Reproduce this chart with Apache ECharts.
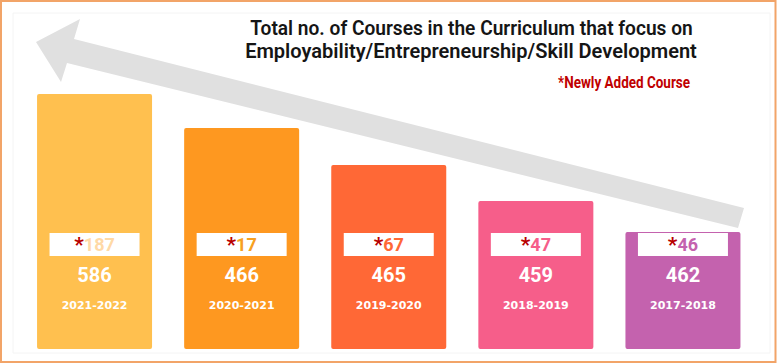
<!DOCTYPE html>
<html>
<head>
<meta charset="utf-8">
<script src="https://cdn.jsdelivr.net/npm/echarts@6/dist/echarts.min.js"></script>
<style>
html,body{margin:0;padding:0;background:#fff;}
#chart{width:777px;height:364px;}
</style>
</head>
<body>
<div id="chart"></div>
<script>
// ---- data ----
const years = ['2021-2022', '2020-2021', '2019-2020', '2018-2019', '2017-2018'];
const totalCourses = [586, 466, 465, 459, 462];
const newCourses = [187, 17, 67, 47, 46];
// bar heights (arbitrary units; the reference draws a staircase, not value-proportional)
const barHeights = [25.5, 22.1, 18.4, 14.8, 11.7];
const titleLines = ['Total no. of Courses in the Curriculum that focus on', 'Employability/Entrepreneurship/Skill Development'];
const noteText = '*Newly Added Course';

// ---- styles ----
const barColors = ['#FFC04F', '#FE9820', '#FF6836', '#F65E8A', '#C462AE'];
const newNumColors = ['#FFD9A6', '#F7A021', '#FF6836', '#F65E8A', '#C462AE'];
const sans = "Roboto, 'Liberation Sans', sans-serif";

// helper: horizontal squeeze factor so a text fits a target width (emulates a condensed face)
const mctx = document.createElement('canvas').getContext('2d');
function squeeze(text, font, target) {
  mctx.font = font;
  return target / mctx.measureText(text).width;
}
const titleFont = '600 21px ' + sans;
const noteFont = 'bold 16px ' + sans;

const chart = echarts.init(document.getElementById('chart'), null, {renderer: 'svg'});

const numRich = {
  s: {color: '#B80000', fontFamily: sans, fontWeight: 'bold', fontSize: 21, align: 'center', lineHeight: 23}
};
barColors.forEach((c, i) => {
  numRich['n' + i] = {color: newNumColors[i], fontFamily: sans, fontWeight: 'bold', fontSize: 18, align: 'center', lineHeight: 23};
});

const option = {
  animation: false,
  grid: {left: 21, right: 20.5, top: 39, bottom: 15},
  xAxis: {type: 'category', data: years, show: false},
  yAxis: {type: 'value', min: 0, max: 31, show: false, splitLine: {show: false}},
  graphic: [
    {type: 'rect', silent: true, z: -10, shape: {x: 1, y: 1, width: 774.5, height: 361},
      style: {fill: 'none', stroke: '#F2A468', lineWidth: 2}},
    {type: 'rect', silent: true, z: -10, shape: {x: 13, y: 13, width: 757, height: 340},
      style: {fill: 'none', stroke: '#F4F4F4', lineWidth: 1}},
    {type: 'polygon', silent: true, z: -5,
      shape: {points: [[36, 42], [80, 19], [74, 39], [744, 208], [738, 228], [67, 63], [61, 82]]},
      style: {fill: '#E0E0E0'}},
    {type: 'text', silent: true, x: 471.5, y: 27.5, scaleX: squeeze(titleLines[0], titleFont, 443),
      style: {text: titleLines[0], align: 'center', verticalAlign: 'middle',
        fontFamily: sans, fontSize: 21, fontWeight: 600, fill: '#151515'}},
    {type: 'text', silent: true, x: 471, y: 50.5, scaleX: squeeze(titleLines[1], titleFont, 452),
      style: {text: titleLines[1], align: 'center', verticalAlign: 'middle',
        fontFamily: sans, fontSize: 21, fontWeight: 600, fill: '#151515'}},
    {type: 'text', silent: true, x: 690, y: 83, scaleX: squeeze(noteText, noteFont, 132),
      style: {text: noteText, align: 'right', verticalAlign: 'middle',
        fontFamily: sans, fontSize: 16, fontWeight: 'bold', fill: '#C00000'}}
  ],
  series: [
    {
      type: 'bar',
      barWidth: 115,
      barGap: '-100%',
      data: barHeights.map((v, i) => ({value: v, itemStyle: {color: barColors[i]}})),
      itemStyle: {borderRadius: 2},
      label: {
        show: true,
        position: 'insideBottom',
        distance: 35.5,
        formatter: p => '{t|' + totalCourses[p.dataIndex] + '}\n{y|' + years[p.dataIndex] + '}',
        rich: {
          t: {color: '#FFFFFF', fontFamily: sans, fontWeight: 'bold', fontSize: 20, lineHeight: 46, align: 'center'},
          y: {color: '#FFFFFF', fontFamily: "'DejaVu Sans', sans-serif", fontWeight: 'bold', fontSize: 11, lineHeight: 16, align: 'center'}
        }
      },
      silent: true
    },
    {
      type: 'bar',
      barWidth: 115,
      barGap: '-100%',
      data: barHeights,
      itemStyle: {color: 'rgba(0,0,0,0)'},
      label: {
        show: true,
        position: 'insideBottom',
        distance: 93,
        backgroundColor: '#FFFFFF',
        width: 90,
        height: 23,
        padding: 0,
        formatter: p => '{s|*}{n' + p.dataIndex + '|' + newCourses[p.dataIndex] + '}',
        rich: numRich
      },
      silent: true
    }
  ]
};
chart.setOption(option);
</script>
</body>
</html>
